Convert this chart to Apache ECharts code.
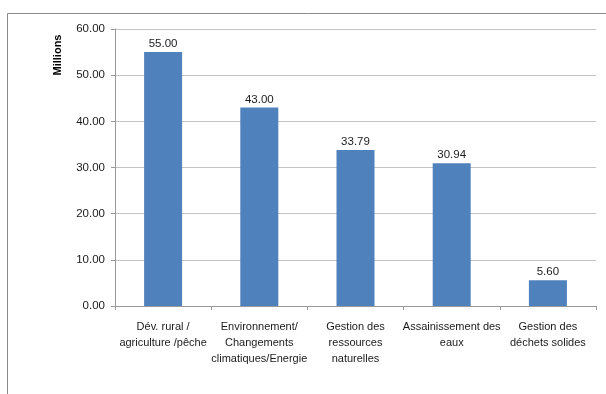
<!DOCTYPE html>
<html><head><meta charset="utf-8">
<script src="https://cdn.jsdelivr.net/npm/echarts@6/dist/echarts.min.js"></script>
<style>html,body{margin:0;padding:0;background:#fff}#c{width:606px;height:394px}</style>
</head><body><div id="c"></div>
<script>
var categories = ['Dév. rural /\nagriculture /pêche', 'Environnement/\nChangements\nclimatiques/Energie', 'Gestion des\nressources\nnaturelles', 'Assainissement des\neaux', 'Gestion des\ndéchets solides'];
var values = [55.00, 43.00, 33.79, 30.94, 5.60];
var yMin = 0, yMax = 60, yStep = 10;
var yTitle = 'Millions';

var chart = echarts.init(document.getElementById('c'), null, {renderer: 'canvas'});
var font = 'Liberation Sans';
chart.setOption({
  animation: false,
  backgroundColor: '#fff',
  grid: {left: 115, right: 10, top: 29, bottom: 88},
  graphic: [
    {type: 'rect', shape: {x: 7.5, y: 13.5, width: 640, height: 420}, style: {fill: 'none', stroke: '#8a8a8a', lineWidth: 1}, silent: true},
    {type: 'text', x: 58, y: 55, rotation: Math.PI / 2, style: {text: yTitle, font: 'bold 11px "' + font + '"', fill: '#000', align: 'center', verticalAlign: 'middle'}}
  ],
  xAxis: {
    type: 'category', data: categories,
    axisLine: {lineStyle: {color: '#999'}},
    axisTick: {show: true, length: 4, lineStyle: {color: '#999'}},
    axisLabel: {color: '#1a1a1a', fontFamily: font, fontSize: 11, lineHeight: 16, margin: 13, interval: 0}
  },
  yAxis: {
    type: 'value', min: yMin, max: yMax, interval: yStep,
    axisLine: {show: true, lineStyle: {color: '#999'}},
    axisTick: {show: true, length: 4, lineStyle: {color: '#999'}},
    splitLine: {lineStyle: {color: '#c4c4c4'}},
    axisLabel: {color: '#1a1a1a', fontFamily: font, fontSize: 11.5, margin: 10, formatter: function (v) { return v.toFixed(2); }}
  },
  series: [{
    type: 'bar', data: values, barWidth: 38,
    itemStyle: {color: '#4F81BD'},
    label: {show: true, position: 'top', distance: 2, color: '#1a1a1a', fontFamily: font, fontSize: 11.5, formatter: function (p) { return p.value.toFixed(2); }}
  }]
});
</script></body></html>
